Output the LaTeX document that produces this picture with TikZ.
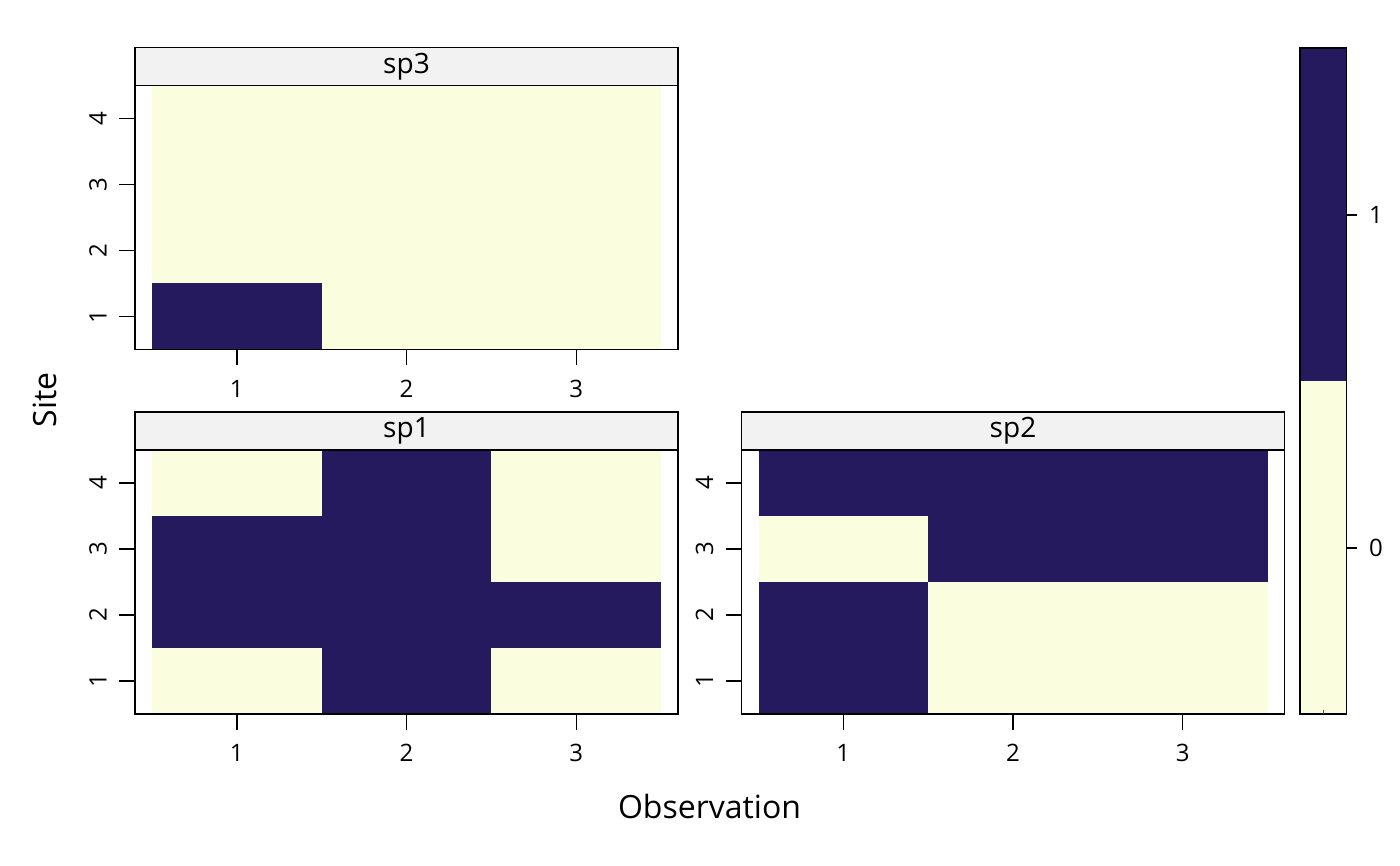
\documentclass[tikz,border=0pt]{standalone}
\usepackage{fontspec}
\setmainfont{Open Sans}
\definecolor{dk}{RGB}{37,26,94}
\definecolor{lt}{RGB}{250,254,222}
\definecolor{stripgray}{RGB}{242,242,242}
\tikzset{
  frame/.style={draw=black, line width=1.5pt},
  tickline/.style={draw=black, line width=1.4pt},
  ticklab/.style={font=\fontsize{24}{28}\selectfont, inner sep=0pt},
  striplab/.style={font=\fontsize{28}{32}\selectfont, inner sep=0pt},
  axislab/.style={font=\fontsize{32}{38}\selectfont, inner sep=0pt},
}
% #1 left x, #2 bottom y (pixels, y down), #3 strip text, #4 dark cells x/y, #5 name prefix
\newcommand\latpanel[5]{%
  \fill[lt] ({#1+17},{#2}) rectangle ({#1+526},{#2-264});
  \foreach \cx/\cy in {#4}
    \fill[dk] ({#1+17+(\cx-1)*169.7},{#2-(\cy-1)*66}) rectangle ({#1+17+\cx*169.7},{#2-\cy*66});
  \fill[stripgray] (#1,{#2-302}) rectangle ({#1+543},{#2-264});
  \draw[frame] (#1,{#2-302}) rectangle ({#1+543},{#2-264});
  \draw[frame] (#1,{#2-264}) rectangle ({#1+543},{#2});
  \node[striplab] (#5s) at ({#1+271.5},{#2-283}) {#3};
  \foreach \i in {1,2,3} {
    \draw[tickline] ({#1+17+(\i-0.5)*169.7},{#2}) -- ({#1+17+(\i-0.5)*169.7},{#2+16});
    \node[ticklab] (#5x\i) at ({#1+17+(\i-0.5)*169.7},{#2+39}) {\i};
  }
  \foreach \j in {1,2,3,4} {
    \draw[tickline] ({#1-16},{#2-(\j-0.5)*66}) -- (#1,{#2-(\j-0.5)*66});
    \node[ticklab, rotate=90] (#5y\j) at ({#1-37},{#2-(\j-0.5)*66}) {\j};
  }
}
\begin{document}
\begin{tikzpicture}[x=1pt,y=-1pt]
\useasboundingbox (0,0) rectangle (1400,866);
\fill[white] (0,0) rectangle (1400,866);

% sp3 (top left)
\latpanel{135}{349.5}{sp3}{1/1}{a}
% sp1 (bottom left)
\latpanel{135}{714}{sp1}{1/2,1/3,2/1,2/2,2/3,2/4,3/2}{b}
% sp2 (bottom right)
\latpanel{741.5}{714}{sp2}{1/1,1/2,1/4,2/3,2/4,3/3,3/4}{c}

% colour key
\fill[dk] (1300,48) rectangle (1346.5,381);
\fill[lt] (1300,381) rectangle (1346.5,714);
\draw[frame] (1300,48) rectangle (1346.5,714);
\draw[line width=0.6pt, black!70] (1323,714) -- (1323,710);
\draw[tickline] (1346.5,215) -- (1357,215);
\draw[tickline] (1346.5,548) -- (1357,548);
\node[ticklab] (k1) at (1376,215) {1};
\node[ticklab] (k0) at (1376,548) {0};

% axis labels
\node[axislab, rotate=90] (ylab) at (45,400) {Site};
\node[axislab] (xlab) at (709.5,806) {Observation};
\end{tikzpicture}
\end{document}
